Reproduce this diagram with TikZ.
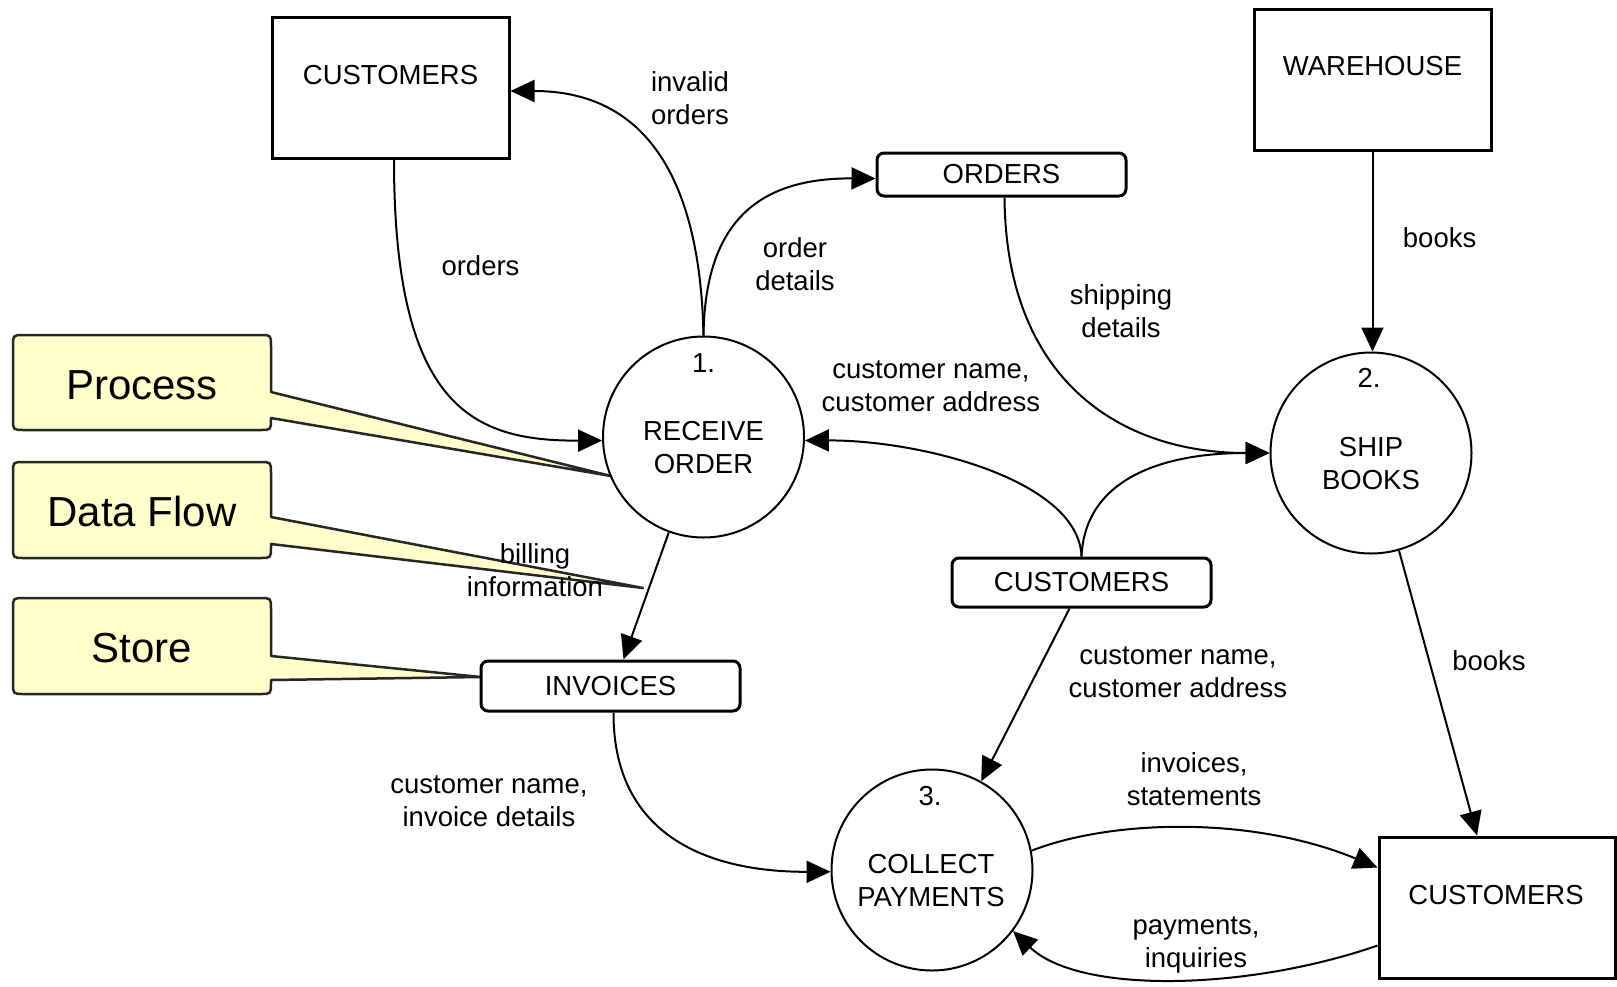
\documentclass[tikz,border=0pt]{standalone}
\usepackage{fontspec}
\setmainfont{Liberation Sans}
\usetikzlibrary{arrows.meta,calc}
\definecolor{noteyellow}{HTML}{FFFFCC}
\begin{document}
\begin{tikzpicture}[x=1pt, y=-1pt,
  lbl/.style={font=\fontsize{27.5}{33}\selectfont, align=center, inner sep=0pt},
  notetxt/.style={font=\fontsize{42}{50}\selectfont, inner sep=0pt},
  extbox/.style={draw, line width=3pt, minimum width=237pt, minimum height=141pt, inner sep=0pt},
  proc/.style={draw, circle, line width=2pt, minimum size=201pt, inner sep=0pt},
  store/.style={draw, rounded corners=7pt, line width=3pt, inner sep=0pt,
    minimum width=259pt, minimum height=49pt, font=\fontsize{27.5}{33}\selectfont},
  flow/.style={line width=2pt, -{Triangle[length=24pt,width=22pt]}},
  note/.style={draw=black!85, line width=2.5pt, fill=noteyellow, line join=round}]

\useasboundingbox (0,0) rectangle (1617,986);

% legend callouts: rounded box with a pointer wedge on its right side
\draw[note] (611,476) -- (271,392) -- (271,346) .. controls (271,335) .. (260,335)
  -- (24,335) .. controls (13,335) .. (13,346) -- (13,419) .. controls (13,430) .. (24,430)
  -- (260,430) .. controls (271,430) .. (271,419) -- (271,418) -- cycle;
\node[notetxt] (procnote) at (142,385) {Process};
\draw[note] (643,588) -- (271,517) -- (271,473) .. controls (271,462) .. (260,462)
  -- (24,462) .. controls (13,462) .. (13,473) -- (13,547) .. controls (13,558) .. (24,558)
  -- (260,558) .. controls (271,558) .. (271,547) -- (271,544) -- cycle;
\node[notetxt] (flownote) at (142,511) {Data Flow};
\draw[note] (481,677) -- (271,656) -- (271,609) .. controls (271,598) .. (260,598)
  -- (24,598) .. controls (13,598) .. (13,609) -- (13,683) .. controls (13,694) .. (24,694)
  -- (260,694) .. controls (271,694) .. (271,683) -- (271,680) -- cycle;
\node[notetxt] (storenote) at (142,648) {Store};

% external entities
\node[extbox] (custA) at (390.5,88) {};
\node[lbl] (custAtxt) at (390.5,75) {CUSTOMERS};
\node[extbox] (wh) at (1372.5,79.5) {};
\node[lbl] (whtxt) at (1372.5,66) {WAREHOUSE};
\node[extbox, minimum width=236pt] (custC) at (1497,907.5) {};
\node[lbl] (custCtxt) at (1496,895) {CUSTOMERS};

% processes
\node[proc] (p1) at (703.5,437) {};
\node[lbl] (p1num) at (703.5,363) {1.};
\node[lbl] (p1txt) at (703.5,448) {RECEIVE\\ORDER};
\node[proc] (p2) at (1371,453) {};
\node[lbl] (p2num) at (1369,378) {2.};
\node[lbl] (p2txt) at (1371,464) {SHIP\\BOOKS};
\node[proc] (p3) at (932,870) {};
\node[lbl] (p3num) at (930,796) {3.};
\node[lbl] (p3txt) at (931,881) {COLLECT\\PAYMENTS};

% data stores
\node[store, minimum width=249pt, minimum height=43pt] (ordS) at (1001.5,174.5) {ORDERS};
\node[store] (custB) at (1081.5,582.5) {CUSTOMERS};
\node[store, minimum height=50pt] (inv) at (610.5,686) {INVOICES};

% data flows
\draw[flow] ($(custA.south)+(3.5,0)$) .. controls (394,410) and (475,441) .. (p1.182);
\draw[flow] (p1.north) .. controls (700,170) and (640,91) .. ($(custA.east)+(0,3)$);
\draw[flow] (p1.north) .. controls (705,220) and (760,178) .. ($(ordS.west)+(0,4)$);
\draw[flow] ($(ordS.south)+(3,0)$) .. controls (1006,380) and (1120,453) .. (p2.west);
\draw[flow] (custB.north) .. controls (1079,480) and (920,440) .. (p1.-2);
\draw[flow] (custB.north) .. controls (1085,480) and (1160,453) .. (p2.west);
\draw[flow] (wh.south) -- (wh.south |- p2.north);
\draw[flow] (p1.-110) -- ($(inv.north)+(13,0)$);
\draw[flow] ($(inv.south)+(3,0)$) .. controls (613,830) and (700,872) .. (p3.181);
\draw[flow] ($(custB.south)+(-12,0)$) -- (p3.61);
\draw[flow] (p2.-74) -- ($(custC.north)+(-20,0)$);
\draw[flow] (p3.11) .. controls (1110,820) and (1250,815) .. ($(custC.west)+(0,-40)$);
\draw[flow] ($(custC.west)+(0,38)$) .. controls (1250,990) and (1080,995) .. (p3.-37);

% flow labels
\node[lbl] (lInvalid) at (690,98) {invalid\\orders};
\node[lbl] (lOrders) at (480.5,266) {orders};
\node[lbl] (lOrdDet) at (795,264) {order\\details};
\node[lbl] (lShip) at (1121,311.5) {shipping\\details};
\node[lbl] (lCustA) at (931,386) {customer name,\\customer address};
\node[lbl] (lBooksA) at (1439.6,238) {books};
\node[lbl] (lBill) at (535,570) {billing\\information};
\node[lbl] (lCustB) at (1178,672) {customer name,\\customer address};
\node[lbl] (lBooksB) at (1489,661) {books};
\node[lbl] (lInvSt) at (1194,779.5) {invoices,\\statements};
\node[lbl] (lCustInv) at (489,801) {customer name,\\invoice details};
\node[lbl] (lPay) at (1196,945) {payments,\\inquiries};
\end{tikzpicture}
\end{document}
